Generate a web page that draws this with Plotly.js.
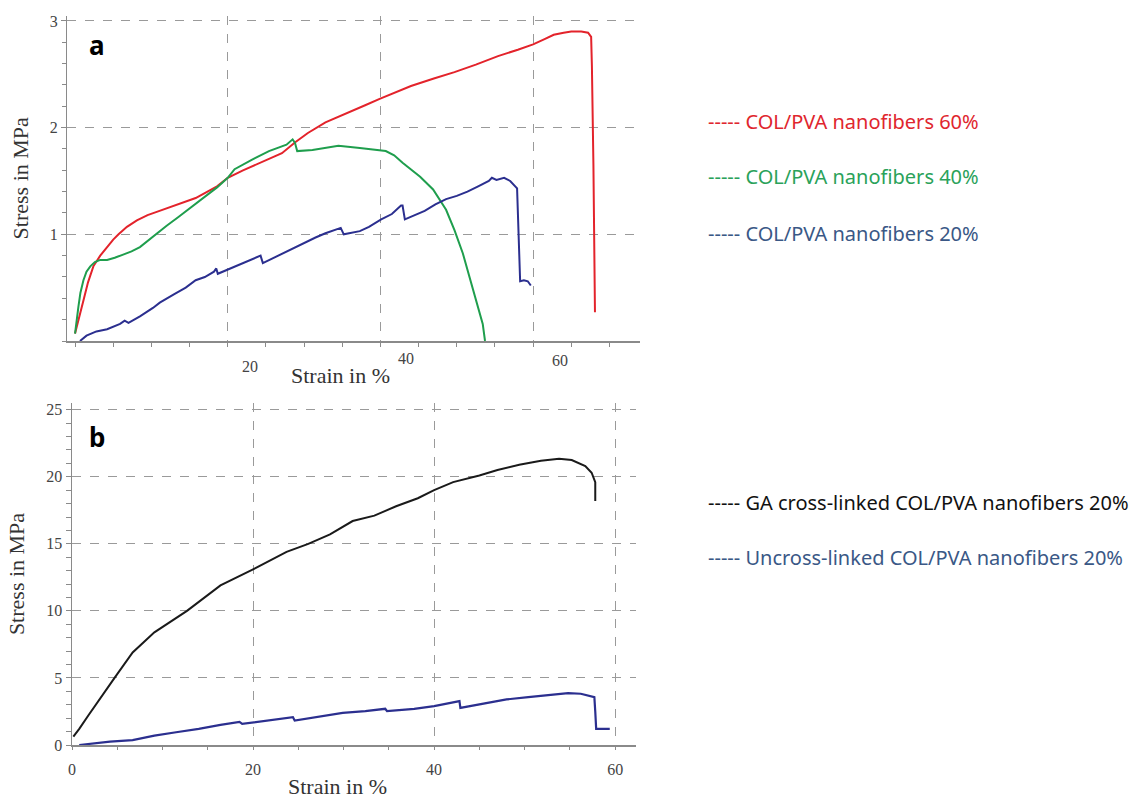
<!DOCTYPE html>
<html>
<head>
<meta charset="utf-8">
<script src="https://cdn.plot.ly/plotly-3.0.1.min.js"></script>
<style>html,body{margin:0;padding:0;background:#fff;}#chart{width:1136px;height:798px;}</style>
</head>
<body>
<div id="chart"></div>
<script>
// ---------- Panel a : strain (%) vs stress (MPa) ----------
const redStrainA = [0, 0.5, 1.1, 1.7, 2.4, 3.3, 4.2, 5.0, 5.7, 6.8, 8.1, 9.5, 10.7, 13, 15.8, 18.6, 20, 22, 24.3, 27.1, 28.8, 30.5, 32.8, 35.6, 38, 39.9, 42, 44, 47, 49.7, 52.5, 55.4, 58, 60, 61.5, 62.7, 64, 65, 66.3, 67.2, 67.6, 67.7, 67.9, 68.0, 68.1];
const redStressA = [0.07, 0.2, 0.38, 0.55, 0.70, 0.80, 0.88, 0.95, 1.0, 1.07, 1.13, 1.18, 1.21, 1.27, 1.34, 1.45, 1.53, 1.60, 1.67, 1.76, 1.86, 1.95, 2.05, 2.14, 2.21, 2.27, 2.33, 2.39, 2.46, 2.52, 2.59, 2.67, 2.73, 2.78, 2.83, 2.87, 2.89, 2.90, 2.90, 2.89, 2.85, 2.58, 1.64, 0.9, 0.27];

const greenStrainA = [0, 0.2, 0.44, 0.7, 1.1, 1.5, 2.0, 2.6, 3.3, 4.2, 5.2, 6.3, 7.4, 8.5, 9.7, 10.9, 12, 13.5, 15.8, 18.6, 20, 20.9, 23.2, 25.4, 27.7, 28.5, 28.8, 29.1, 31.1, 34.5, 37.3, 40.7, 41.8, 42.9, 45.2, 46.9, 48.6, 49.7, 50.8, 51.7, 52.5, 53.4, 53.7];
const greenStressA = [0.07, 0.2, 0.32, 0.45, 0.57, 0.65, 0.70, 0.74, 0.76, 0.76, 0.78, 0.81, 0.84, 0.88, 0.95, 1.02, 1.08, 1.16, 1.29, 1.44, 1.53, 1.61, 1.70, 1.78, 1.84, 1.89, 1.86, 1.78, 1.79, 1.83, 1.81, 1.78, 1.74, 1.67, 1.54, 1.42, 1.23, 1.04, 0.82, 0.60, 0.38, 0.16, 0.0];

const blueStrainA = [0.65, 1.5, 2.8, 4.2, 5.9, 6.5, 7, 8.5, 10.2, 11.1, 13, 14.5, 15.8, 17, 18.2, 18.5, 18.7, 20, 20.9, 22.5, 24, 24.3, 24.6, 26, 27.1, 28.5, 29.9, 31.5, 32.8, 34.5, 34.8, 35.2, 37.3, 38.5, 40.1, 41.5, 42.7, 42.9, 43.2, 44.5, 45.8, 47.2, 48.6, 50, 51.4, 52.8, 54.2, 54.6, 55.2, 56.2, 57, 57.9, 58.1, 58.3, 58.8, 59.3, 59.7];
const blueStressA = [0, 0.05, 0.09, 0.11, 0.16, 0.19, 0.17, 0.23, 0.31, 0.36, 0.44, 0.5, 0.57, 0.6, 0.65, 0.68, 0.63, 0.67, 0.70, 0.75, 0.79, 0.80, 0.73, 0.78, 0.82, 0.87, 0.92, 0.97, 1.01, 1.05, 1.06, 1.00, 1.03, 1.07, 1.14, 1.19, 1.27, 1.27, 1.14, 1.18, 1.22, 1.28, 1.33, 1.36, 1.40, 1.45, 1.50, 1.53, 1.51, 1.53, 1.50, 1.43, 1.01, 0.56, 0.57, 0.56, 0.52];

// ---------- Panel b ----------
const blackStrainB = [0.15, 0.8, 1.8, 3.3, 4.7, 6.7, 9.1, 12.7, 16.4, 20, 23.7, 26.1, 28.5, 31, 33.4, 35.8, 38.2, 40, 42.1, 45, 47, 49.4, 51.8, 53.8, 55.2, 56.7, 57.4, 57.8, 57.8];
const blackStressB = [0.62, 1.2, 2.2, 3.6, 5.0, 6.9, 8.4, 10.0, 11.9, 13.1, 14.4, 15.0, 15.7, 16.7, 17.1, 17.8, 18.4, 19.0, 19.6, 20.1, 20.5, 20.9, 21.2, 21.35, 21.25, 20.8, 20.3, 19.6, 18.2];

const blueStrainB = [0.8, 2.5, 4.2, 6.7, 9.1, 11.5, 14, 16.4, 18.3, 18.5, 18.8, 21.2, 24.1, 24.4, 24.6, 27, 29.9, 32.4, 34.6, 34.8, 37.8, 40, 42.6, 42.8, 42.9, 45.5, 48, 50.4, 52.8, 54.8, 56.2, 57.7, 57.8, 57.9, 58.5, 59.4];
const blueStressB = [0, 0.12, 0.25, 0.37, 0.7, 0.95, 1.2, 1.5, 1.7, 1.72, 1.57, 1.8, 2.07, 2.08, 1.82, 2.07, 2.4, 2.52, 2.7, 2.52, 2.7, 2.9, 3.27, 3.27, 2.77, 3.07, 3.4, 3.57, 3.75, 3.87, 3.82, 3.57, 2.5, 1.2, 1.2, 1.2];

// ---------- Labels ----------
const seriesNamesA = ["COL/PVA nanofibers 60%", "COL/PVA nanofibers 40%", "COL/PVA nanofibers 20%"];
const seriesNamesB = ["GA cross-linked COL/PVA nanofibers 20%", "Uncross-linked COL/PVA nanofibers 20%"];
const xTickLabelsA = ["20", "40", "60"];
const xTickValsB = [0, 20, 40, 60];
const yTickValsA = [1, 2, 3];
const yTickValsB = [0, 5, 10, 15, 20, 25];

const W = 1136, H = 798;
const px = v => v / W;
const py = v => 1 - v / H;

const serif = "Liberation Serif, Times New Roman, serif";
const sans = "Noto Sans, Open Sans, sans-serif";
const axisGray = "#8a8a8a";
const gridGray = "#9a9a9a";
const labelGray = "#444";

const traces = [
  {x: redStrainA, y: redStressA, xaxis: "x", yaxis: "y", mode: "lines", name: seriesNamesA[0], line: {color: "#e3232b", width: 2}},
  {x: greenStrainA, y: greenStressA, xaxis: "x", yaxis: "y", mode: "lines", name: seriesNamesA[1], line: {color: "#1f9e4d", width: 2}},
  {x: blueStrainA, y: blueStressA, xaxis: "x", yaxis: "y", mode: "lines", name: seriesNamesA[2], line: {color: "#2b2f8f", width: 2}},
  {x: blackStrainB, y: blackStressB, xaxis: "x2", yaxis: "y2", mode: "lines", name: seriesNamesB[0], line: {color: "#1a1a1a", width: 2}},
  {x: blueStrainB, y: blueStressB, xaxis: "x2", yaxis: "y2", mode: "lines", name: seriesNamesB[1], line: {color: "#2b2f8f", width: 2.2}}
];

const xDomA = [px(67.4), px(640)];
const yDomA = [py(341), py(15.6)];
const xDomB = [px(72), px(636)];
const yDomB = [py(745), py(403)];
const rangeXA = [-1, 74], rangeYA = [0, 3.05];
const rangeXB = [0, 62.3], rangeYB = [0, 25.5];

const tickFont = {family: serif, size: 16, color: labelGray};
const titleFont = {family: serif, size: 22, color: "#333"};

const layout = {
  width: W, height: H,
  margin: {l: 0, r: 0, t: 0, b: 0},
  paper_bgcolor: "#fff", plot_bgcolor: "rgba(0,0,0,0)",
  showlegend: false,
  // panel a
  xaxis: {domain: xDomA, range: rangeXA, anchor: "y", showline: true, linecolor: axisGray, linewidth: 1.5,
    tickmode: "array", tickvals: [20, 40, 60], showticklabels: false, ticks: "outside", ticklen: 4, tickcolor: axisGray,
    showgrid: true, gridcolor: gridGray, griddash: "dash", gridwidth: 1, zeroline: false,
    minor: {tick0: 0, dtick: 5, ticks: "outside", ticklen: 4, tickcolor: axisGray, showgrid: false}},
  xaxis3: {overlaying: "x", range: rangeXA, anchor: "y", showline: false, showgrid: false, zeroline: false,
    tick0: 0, dtick: 5, ticks: "inside", ticklen: 5, tickcolor: axisGray, showticklabels: false},
  yaxis: {domain: yDomA, range: rangeYA, anchor: "x", showline: true, linecolor: axisGray, linewidth: 1.5,
    tickmode: "array", tickvals: yTickValsA, ticks: "outside", ticklen: 5, tickcolor: axisGray, tickfont: tickFont,
    showgrid: true, gridcolor: gridGray, griddash: "dash", gridwidth: 1, zeroline: false,
    minor: {tick0: 0, dtick: 0.2, ticks: "outside", ticklen: 4, tickcolor: axisGray, showgrid: false},
    title: {text: "Stress in MPa", font: titleFont, standoff: 15}},
  yaxis3: {overlaying: "y", range: rangeYA, anchor: "x", showline: false, showgrid: false, zeroline: false,
    tick0: 0, dtick: 0.2, ticks: "inside", ticklen: 4, tickcolor: axisGray, showticklabels: false},
  // panel b
  xaxis2: {domain: xDomB, range: rangeXB, anchor: "y2", showline: true, linecolor: axisGray, linewidth: 1.5,
    tickmode: "array", tickvals: xTickValsB, ticks: "outside", ticklen: 3, tickcolor: axisGray, tickfont: tickFont,
    ticklabelstandoff: 6,
    showgrid: true, gridcolor: gridGray, griddash: "dash", gridwidth: 1, zeroline: false,
    minor: {tick0: 0, dtick: 5, ticks: "outside", ticklen: 3, tickcolor: axisGray, showgrid: false}},
  xaxis4: {overlaying: "x2", range: rangeXB, anchor: "y2", showline: false, showgrid: false, zeroline: false,
    tick0: 0, dtick: 5, ticks: "inside", ticklen: 6, tickcolor: axisGray, showticklabels: false},
  yaxis2: {domain: yDomB, range: rangeYB, anchor: "x2", showline: true, linecolor: axisGray, linewidth: 1.5,
    tickmode: "array", tickvals: yTickValsB, ticks: "outside", ticklen: 5, tickcolor: axisGray, tickfont: tickFont,
    showgrid: true, gridcolor: gridGray, griddash: "dash", gridwidth: 1, zeroline: false,
    minor: {tick0: 0, dtick: 1, ticks: "outside", ticklen: 5, tickcolor: axisGray, showgrid: false},
    title: {text: "Stress in MPa", font: titleFont, standoff: 15}},
  yaxis4: {overlaying: "y2", range: rangeYB, anchor: "x2", showline: false, showgrid: false, zeroline: false,
    tick0: 0, dtick: 1, ticks: "inside", ticklen: 3, tickcolor: axisGray, showticklabels: false},
  annotations: []
};

const ann = layout.annotations;
function addText(text, x, y, font, xanchor) {
  ann.push({text: text, xref: "paper", yref: "paper", x: px(x), y: py(y), xanchor: xanchor || "center", yanchor: "middle", showarrow: false, font: font});
}
// panel labels
addText("<b>a</b>", 97, 45, {family: sans, size: 26, color: "#000"});
addText("<b>b</b>", 97, 437, {family: sans, size: 26, color: "#000"});
// panel a x tick labels (offset as in the original figure)
const xLabPosA = [[250, 366], [406, 358], [560, 361]];
xTickLabelsA.forEach((t, i) => addText(t, xLabPosA[i][0], xLabPosA[i][1], tickFont));
// x titles
addText("Strain in %", 340, 375, titleFont);
addText("Strain in %", 337, 786, titleFont);
// legends as text
const legA = [[seriesNamesA[0], "#e0262e", 122], [seriesNamesA[1], "#2aa25a", 177], [seriesNamesA[2], "#3a5886", 234]];
legA.forEach(l => addText("----- " + l[0], 706, l[2], {family: sans, size: 20, color: l[1]}, "left"));
const legB = [[seriesNamesB[0], "#111111", 502], [seriesNamesB[1], "#3a5886", 557]];
legB.forEach(l => addText("----- " + l[0], 706, l[2], {family: sans, size: 20, color: l[1]}, "left"));

Plotly.newPlot("chart", traces, layout, {staticPlot: true, displayModeBar: false});
</script>
</body>
</html>
